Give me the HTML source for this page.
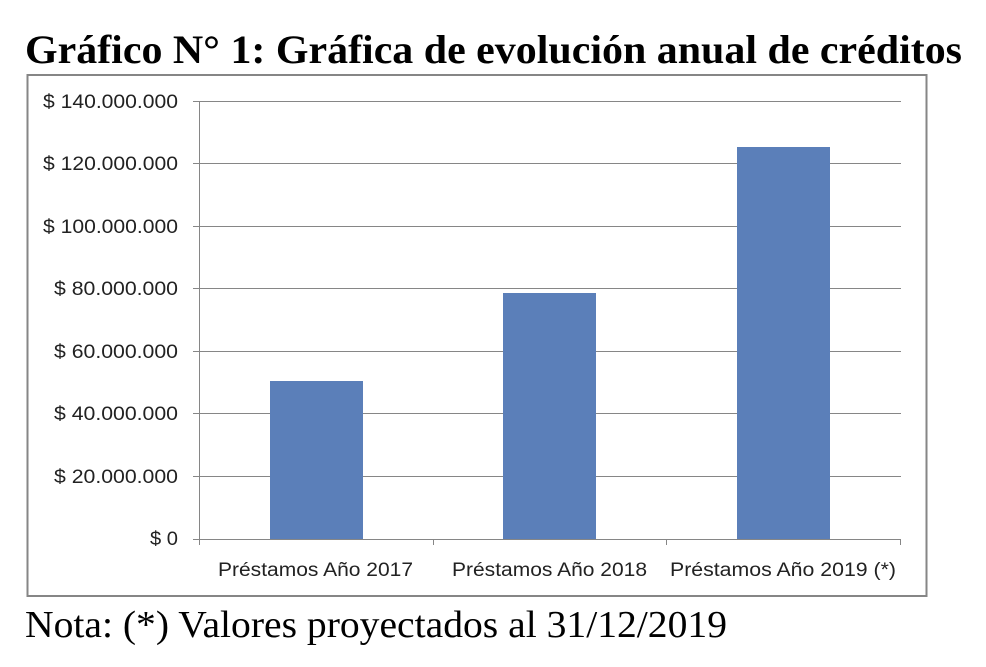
<!DOCTYPE html>
<html><head><meta charset="utf-8"><style>
html,body{margin:0;padding:0;background:#fff;width:986px;height:667px;overflow:hidden}
</style></head><body>
<svg width="986" height="667" xmlns="http://www.w3.org/2000/svg">
<text x="25" y="63" textLength="937" lengthAdjust="spacingAndGlyphs" font-family="Liberation Serif, serif" font-weight="bold" font-size="40">Gráfico N° 1: Gráfica de evolución anual de créditos</text>
<rect x="27.5" y="75" width="899" height="521" fill="#fff" stroke="#868686" stroke-width="2"/>
<g stroke="#868686" stroke-width="1">
<line x1="193" y1="101.5" x2="901" y2="101.5"/>
<line x1="193" y1="163.5" x2="901" y2="163.5"/>
<line x1="193" y1="226.5" x2="901" y2="226.5"/>
<line x1="193" y1="288.5" x2="901" y2="288.5"/>
<line x1="193" y1="351.5" x2="901" y2="351.5"/>
<line x1="193" y1="413.5" x2="901" y2="413.5"/>
<line x1="193" y1="476.5" x2="901" y2="476.5"/>
<line x1="193" y1="539.5" x2="901" y2="539.5"/>
<line x1="199.5" y1="101" x2="199.5" y2="545"/>
<line x1="433.5" y1="539" x2="433.5" y2="545"/>
<line x1="666.5" y1="539" x2="666.5" y2="545"/>
<line x1="900.5" y1="539" x2="900.5" y2="545"/>
</g>
<g fill="#5b7fb9">
<rect x="270" y="381" width="93" height="158"/>
<rect x="503" y="293" width="93" height="246"/>
<rect x="737" y="147" width="93" height="392"/>
</g>
<g font-family="Liberation Sans, sans-serif" font-size="19" fill="#222" text-anchor="end" lengthAdjust="spacingAndGlyphs">
<text x="178" y="108" textLength="135" lengthAdjust="spacingAndGlyphs">$ 140.000.000</text>
<text x="178" y="170" textLength="135" lengthAdjust="spacingAndGlyphs">$ 120.000.000</text>
<text x="178" y="233" textLength="135" lengthAdjust="spacingAndGlyphs">$ 100.000.000</text>
<text x="178" y="295" textLength="124" lengthAdjust="spacingAndGlyphs">$ 80.000.000</text>
<text x="178" y="358" textLength="124" lengthAdjust="spacingAndGlyphs">$ 60.000.000</text>
<text x="178" y="420" textLength="124" lengthAdjust="spacingAndGlyphs">$ 40.000.000</text>
<text x="178" y="483" textLength="124" lengthAdjust="spacingAndGlyphs">$ 20.000.000</text>
<text x="178" y="545" textLength="28" lengthAdjust="spacingAndGlyphs">$ 0</text>
</g>
<g font-family="Liberation Sans, sans-serif" font-size="19" fill="#222">
<text x="218" y="576" textLength="195" lengthAdjust="spacingAndGlyphs">Préstamos Año 2017</text>
<text x="452" y="576" textLength="195" lengthAdjust="spacingAndGlyphs">Préstamos Año 2018</text>
<text x="670" y="576" textLength="226" lengthAdjust="spacingAndGlyphs">Préstamos Año 2019 (*)</text>
</g>
<text x="25" y="637" textLength="702" lengthAdjust="spacingAndGlyphs" font-family="Liberation Serif, serif" font-size="38">Nota: (*) Valores proyectados al 31/12/2019</text>
</svg>
</body></html>
